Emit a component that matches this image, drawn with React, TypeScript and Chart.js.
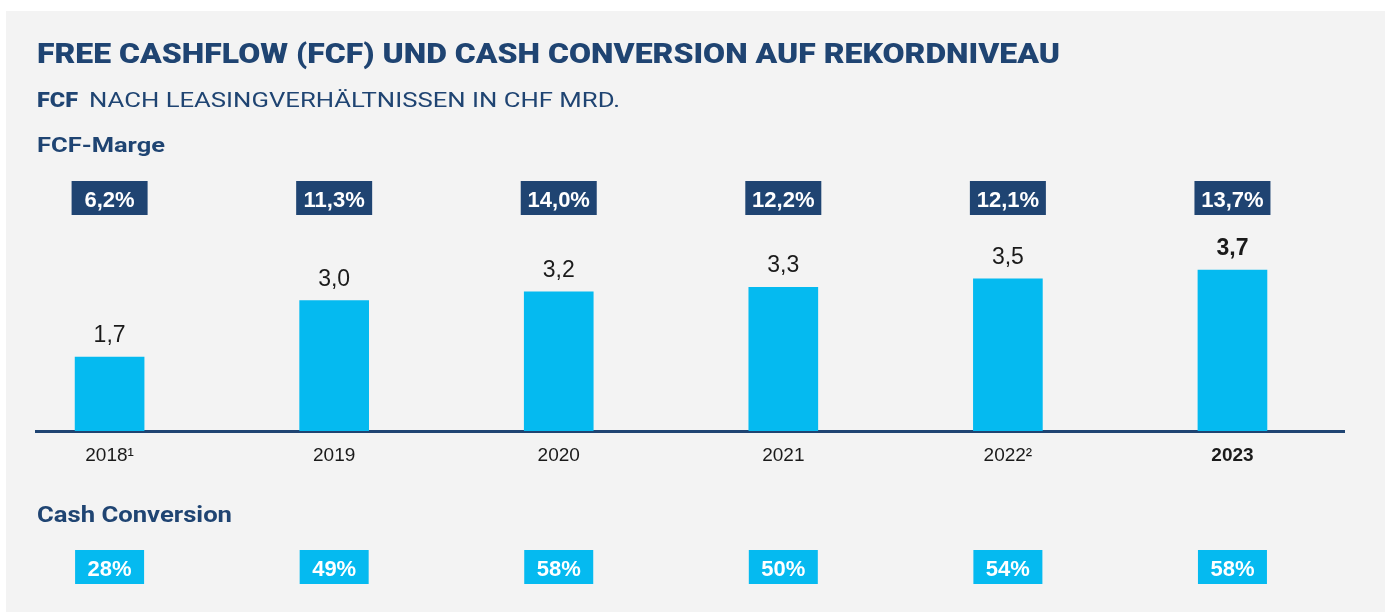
import React, { useEffect, useRef } from "react";
import { Chart, registerables } from "chart.js";

Chart.register(...registerables);

const categories = ["2018¹", "2019", "2020", "2021", "2022²", "2023"];
const fcfValues = [1.7, 3.0, 3.2, 3.3, 3.5, 3.7];
const fcfMargin = [6.2, 11.3, 14.0, 12.2, 12.1, 13.7];
const cashConversion = [28, 49, 58, 50, 54, 58];

const titleText = "FREE CASHFLOW (FCF) UND CASH CONVERSION AUF REKORDNIVEAU";
const subtitleBold = "FCF";
const subtitleText = "NACH LEASINGVERHÄLTNISSEN IN CHF MRD.";
const marginLabel = "FCF-Marge";
const cashLabel = "Cash Conversion";

const NAVY = "#1f4472";
const CYAN = "#05baf0";
const BG = "#f3f3f3";
const DARK = "#1a1a1a";

const fmt1 = (v: number) => v.toFixed(1).replace(".", ",");

function fitText(ctx: CanvasRenderingContext2D, text: string, x: number, y: number, target: number) {
  const w = ctx.measureText(text).width;
  ctx.save();
  ctx.translate(x, y);
  ctx.scale(target / w, 1);
  ctx.fillText(text, 0, 0);
  ctx.restore();
}

const decorPlugin = {
  id: "decor",
  beforeDraw(chart: any) {
    const ctx = chart.ctx as CanvasRenderingContext2D;
    ctx.save();
    ctx.fillStyle = "#ffffff";
    ctx.fillRect(0, 0, chart.width, chart.height);
    ctx.fillStyle = BG;
    ctx.fillRect(6, 11, chart.width - 6, chart.height - 11);
    ctx.fillStyle = NAVY;
    ctx.textAlign = "left";
    ctx.textBaseline = "alphabetic";
    ctx.font = "900 28px Roboto";
    fitText(ctx, titleText, 37, 63, 1023);
    ctx.font = "900 21px Roboto";
    fitText(ctx, subtitleBold, 37, 107, 41);
    ctx.font = "400 21px Roboto";
    fitText(ctx, subtitleText, 89, 107, 531);
    ctx.font = "700 21px Roboto";
    fitText(ctx, marginLabel, 37, 152, 128);
    ctx.font = "700 22px Roboto";
    fitText(ctx, cashLabel, 37, 522, 195);
    ctx.restore();
  },
  afterDraw(chart: any) {
    const ctx = chart.ctx as CanvasRenderingContext2D;
    const meta = chart.getDatasetMeta(0);
    const area = chart.chartArea;
    ctx.save();
    ctx.textAlign = "center";
    ctx.textBaseline = "alphabetic";
    meta.data.forEach((el: any, i: number) => {
      const last = i === fcfValues.length - 1;
      ctx.fillStyle = DARK;
      ctx.font = `${last ? "bold " : ""}23px "Liberation Sans"`;
      ctx.fillText(fmt1(fcfValues[i]), el.x, el.y - 15);
      const mTop = area.top + 11;
      ctx.fillStyle = NAVY;
      ctx.fillRect(el.x - 38, mTop, 76, 34);
      ctx.fillStyle = "#ffffff";
      ctx.font = `bold 22px "Liberation Sans"`;
      ctx.fillText(fmt1(fcfMargin[i]) + "%", el.x, mTop + 26);
      const cTop = area.bottom + 119;
      ctx.fillStyle = CYAN;
      ctx.fillRect(el.x - 34.5, cTop, 69, 34);
      ctx.fillStyle = "#ffffff";
      ctx.fillText(cashConversion[i] + "%", el.x, cTop + 26);
    });
    ctx.restore();
  },
};

export default function App() {
  const ref = useRef<HTMLCanvasElement>(null);
  useEffect(() => {
    if (!ref.current) return;
    const chart = new Chart(ref.current, {
      type: "bar",
      data: {
        datasets: [
          {
            data: fcfValues.map((v, i) => ({ x: i, y: v })),
            backgroundColor: CYAN,
            barThickness: 69,
            borderWidth: 0,
          },
        ],
      },
      options: {
        animation: false,
        responsive: false,
        devicePixelRatio: 1,
        layout: { padding: { left: 36, right: 41, top: 170, bottom: 0 } },
        plugins: { legend: { display: false }, tooltip: { enabled: false } },
        scales: {
          x: {
            type: "linear",
            offset: false,
            min: -0.3277,
            max: 5.4967,
            z: 1,
            grid: { display: false, drawTicks: false, offset: false },
            border: { display: true, color: NAVY, width: 3 },
            afterFit: (scale: any) => {
              scale.height = 181;
            },
            ticks: {
              stepSize: 1,
              includeBounds: false,
              autoSkip: false,
              maxRotation: 0,
              padding: 13,
              color: DARK,
              font: (ctx: any) => ({
                family: "Liberation Sans",
                size: 19,
                weight: ctx.tick && ctx.tick.value === 5 ? "bold" : "normal",
              }),
              callback: (v: any) => categories[Math.round(Number(v))] ?? "",
            },
          },
          y: { display: false, min: 0, max: 6 },
        },
      },
      plugins: [decorPlugin],
    } as any);
    return () => chart.destroy();
  }, []);
  return (
    <div style={{ position: "fixed", left: 0, top: 0, width: 1385, height: 612 }}>
      <canvas ref={ref} width={1385} height={612} style={{ display: "block" }} />
    </div>
  );
}
